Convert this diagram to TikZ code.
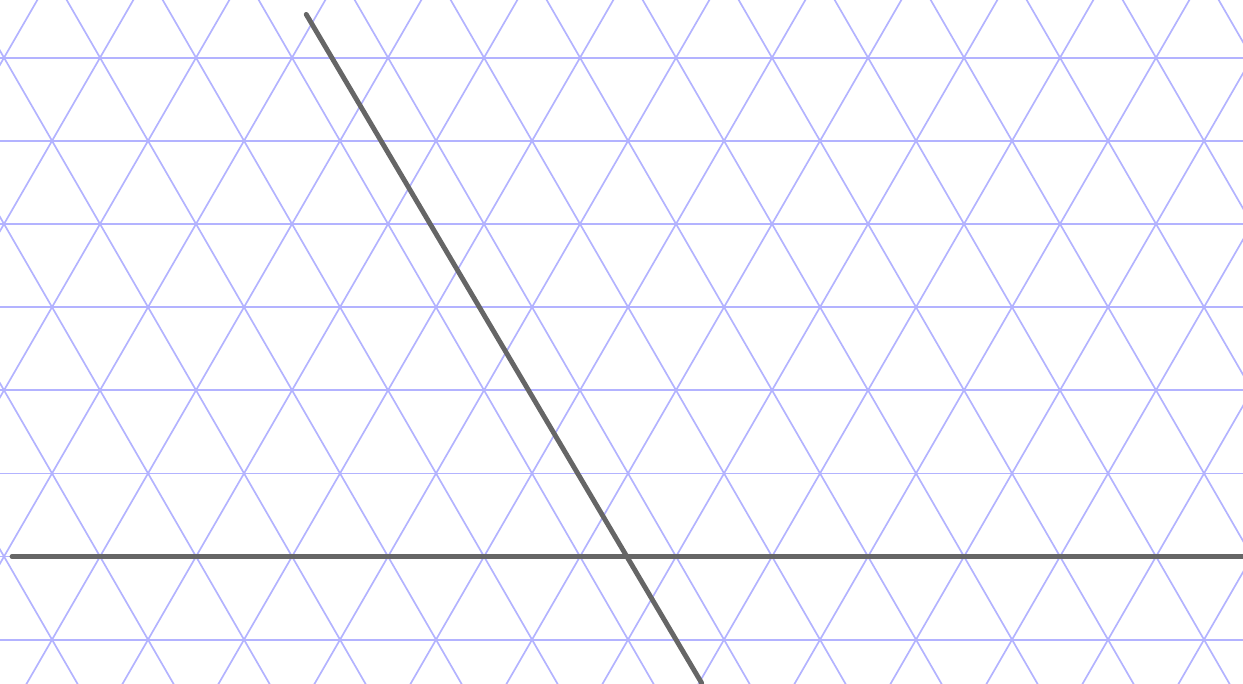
\documentclass[tikz,border=0pt]{standalone}
\usepackage{xcolor}
\usepackage{tikz}
\usetikzlibrary{calc}
\definecolor{GridCol}{HTML}{B3B3FF}
\definecolor{LineCol}{HTML}{666666}
\begin{document}
\begin{tikzpicture}
  \tikzstyle{gridline}=[draw=GridCol, line width=0.5pt]
  \tikzstyle{bigline}=[draw=LineCol, line width=1.45pt, line cap=round]
  \useasboundingbox (0,0) rectangle (12.948,7.115);
  \clip (0,0) rectangle (12.948,7.115);
  % triangular grid
  \coordinate (O) at (0.042,1.318);
  \foreach \k in {-2,...,8}
    \draw[gridline] ($(O)+(-1,\k*0.866)$) -- ++(16,0);
  \foreach \n in {-5,...,18} {
    \draw[gridline] ($(O)+(\n-1.5,-2.598)$) -- ($(O)+(\n+5,8.66)$);
    \draw[gridline] ($(O)+(\n+1.5,-2.598)$) -- ($(O)+(\n-5,8.66)$);
  }
  % the two lines
  \coordinate (hstart) at (0.125,1.318);
  \coordinate (hend) at (13.3,1.318);
  \coordinate (dstart) at (3.19,6.965);
  \coordinate (dend) at (7.309,0);
  \draw[bigline] (hstart) -- (hend);
  \draw[bigline] (dstart) -- (dend);
\end{tikzpicture}
\end{document}
